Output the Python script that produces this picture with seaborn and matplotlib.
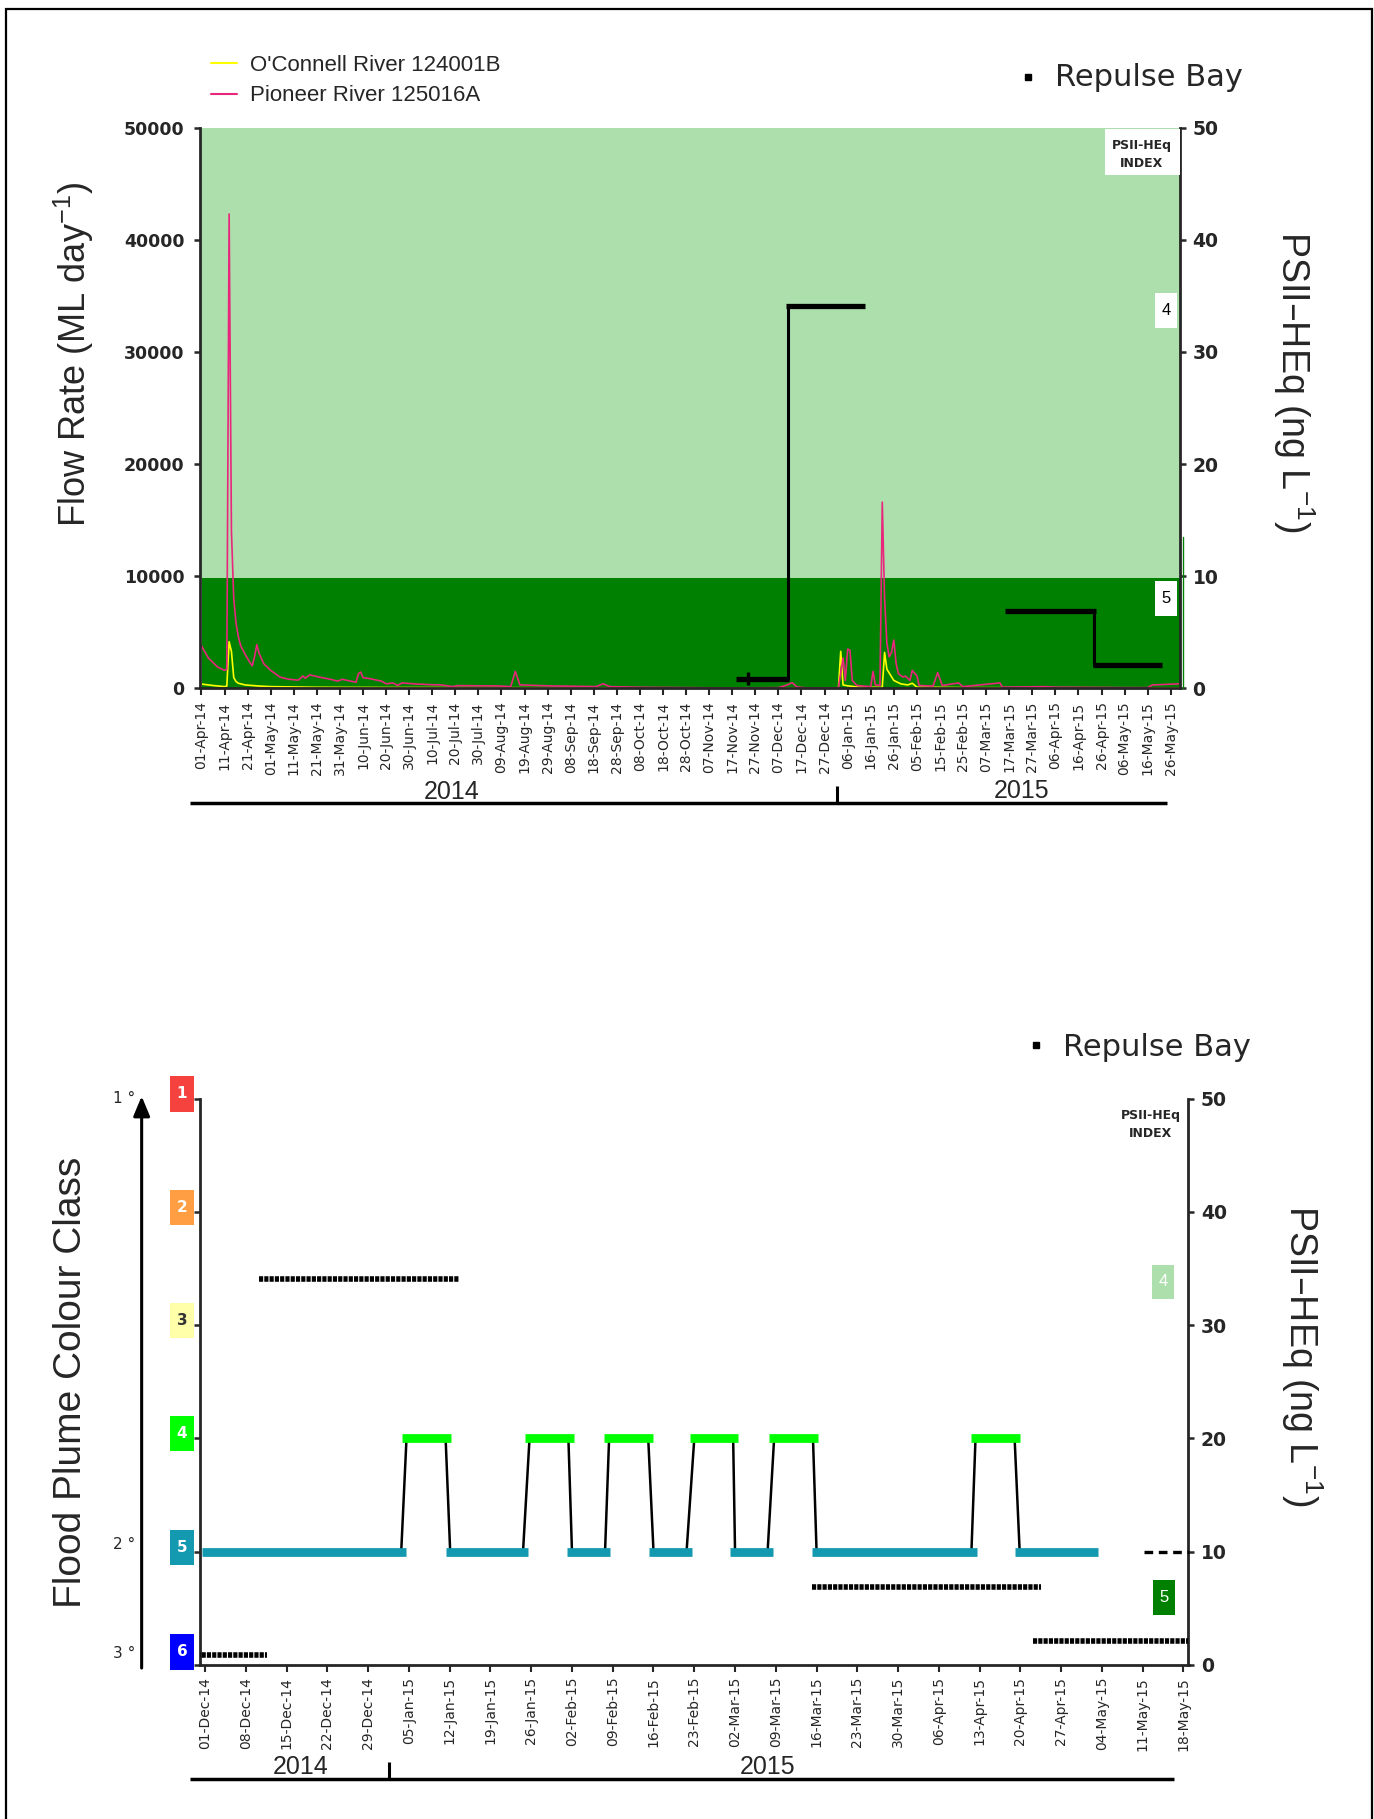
import pandas as pd
import matplotlib
matplotlib.use("Agg")
import matplotlib.pyplot as plt
import matplotlib.dates as mdates
from matplotlib.patches import Rectangle
from matplotlib.lines import Line2D
from matplotlib.transforms import blended_transform_factory
import seaborn as sns

# ---------------------------------------------------------------- data
rivers = ["O'Connell River 124001B", "Pioneer River 125016A"]
river_colors = ["#FFFF00", "#E8267C"]

# daily river flow (ML/day) at the turning points of each hydrograph
oconnell_dates = ["2014-04-01", "2014-04-06", "2014-04-11", "2014-04-12", "2014-04-13",
                  "2014-04-14", "2014-04-15", "2014-04-16", "2014-04-17", "2014-04-20",
                  "2014-04-26", "2014-05-01", "2014-05-21", "2014-06-20", "2014-07-22",
                  "2014-08-29", "2014-10-18", "2014-11-27", "2015-01-02", "2015-01-03",
                  "2015-01-04", "2015-01-06", "2015-01-11", "2015-01-21", "2015-01-22",
                  "2015-01-23", "2015-01-26", "2015-01-29", "2015-02-01", "2015-02-03",
                  "2015-02-05", "2015-02-25", "2015-03-27", "2015-05-30"]
oconnell_flow = [380, 250, 150, 200, 4150,
                 3300, 950, 600, 450, 300,
                 200, 150, 90, 70, 60,
                 50, 40, 30, 30, 3300,
                 300, 220, 100, 80, 3200,
                 1700, 700, 400, 300, 450,
                 100, 60, 50, 40]

pioneer_dates = ["2014-04-01", "2014-04-04", "2014-04-08", "2014-04-11", "2014-04-12",
                 "2014-04-13", "2014-04-14", "2014-04-15", "2014-04-16", "2014-04-17",
                 "2014-04-18", "2014-04-20", "2014-04-22", "2014-04-23", "2014-04-24",
                 "2014-04-25", "2014-04-26", "2014-04-28", "2014-05-01", "2014-05-03",
                 "2014-05-05", "2014-05-09", "2014-05-13", "2014-05-15", "2014-05-16",
                 "2014-05-18", "2014-05-22", "2014-05-27", "2014-05-30", "2014-06-01",
                 "2014-06-07", "2014-06-08", "2014-06-09", "2014-06-10", "2014-06-13",
                 "2014-06-18", "2014-06-20", "2014-06-23", "2014-06-25", "2014-06-27",
                 "2014-07-03", "2014-07-10", "2014-07-14", "2014-07-19", "2014-07-21",
                 "2014-08-08", "2014-08-13", "2014-08-15", "2014-08-17", "2014-08-31",
                 "2014-09-19", "2014-09-22", "2014-09-25", "2014-10-09", "2014-11-16",
                 "2014-12-07", "2014-12-10", "2014-12-13", "2014-12-15", "2014-12-19",
                 "2015-01-01", "2015-01-02", "2015-01-04", "2015-01-05", "2015-01-06",
                 "2015-01-07", "2015-01-08", "2015-01-10", "2015-01-16", "2015-01-17",
                 "2015-01-18", "2015-01-20", "2015-01-21", "2015-01-22", "2015-01-23",
                 "2015-01-24", "2015-01-25", "2015-01-26", "2015-01-27", "2015-01-28",
                 "2015-01-30", "2015-01-31", "2015-02-02", "2015-02-03", "2015-02-05",
                 "2015-02-06", "2015-02-12", "2015-02-14", "2015-02-16", "2015-02-23",
                 "2015-02-25", "2015-03-13", "2015-03-14", "2015-04-01", "2015-04-06",
                 "2015-05-06", "2015-05-16", "2015-05-18", "2015-05-30"]
pioneer_flow = [3800, 2700, 1900, 1600, 1700,
                42300, 14000, 8000, 5800, 4600,
                3800, 3000, 2300, 2000, 2800,
                3900, 3100, 2200, 1600, 1300,
                1000, 800, 730, 1100, 900,
                1200, 1000, 800, 640, 800,
                540, 1300, 1450, 950, 860,
                640, 400, 480, 260, 480,
                380, 320, 300, 150, 240,
                210, 150, 1500, 300, 210,
                150, 400, 150, 90, 30,
                60, 240, 500, 120, 40,
                40, 60, 2700, 700, 3500,
                3400, 700, 250, 150, 1500,
                300, 250, 16600, 8000, 4000,
                2800, 3200, 4300, 2200, 1300,
                1000, 1100, 700, 1600, 1100,
                250, 200, 1400, 250, 480,
                150, 480, 100, 150, 100,
                60, 60, 300, 400]

# passive sampler deployments at Repulse Bay: PSII-HEq (ng/L)
sample_start = ["2014-11-18 17:00", "2014-12-10 05:00", "2015-03-15 05:00", "2015-04-22 04:00"]
sample_end = ["2014-12-11 17:00", "2015-01-13 16:00", "2015-04-23 12:00", "2015-05-22 02:00"]
psii_heq = [0.85, 34.1, 6.9, 2.1]
psii_err_date = "2014-11-23 19:00"
psii_err = 0.6

# PSII-HEq index bands (ng/L)
index_names = ["5", "4"]
index_lower = [0, 9.8]
index_upper = [9.8, 50]
index_colors = ["#008000", "#ADDFAD"]

# flood plume colour class observed at the site
plume_start = ["2014-11-30 10:00", "2015-01-03 19:00", "2015-01-11 07:00", "2015-01-24 22:00",
               "2015-02-01 05:00", "2015-02-07 14:00", "2015-02-15 05:00", "2015-02-22 05:00",
               "2015-03-01 05:00", "2015-03-07 22:00", "2015-03-15 05:00", "2015-04-11 12:00",
               "2015-04-19 02:00"]
plume_end = ["2015-01-04 14:00", "2015-01-12 05:00", "2015-01-25 12:00", "2015-02-02 07:00",
             "2015-02-08 14:00", "2015-02-16 00:00", "2015-02-22 14:00", "2015-03-02 14:00",
             "2015-03-08 12:00", "2015-03-16 07:00", "2015-04-12 12:00", "2015-04-19 22:00",
             "2015-05-03 10:00"]
plume_class = [5, 4, 5, 4, 5, 4, 5, 4, 5, 4, 5, 4, 5]

colour_classes = [1, 2, 3, 4, 5, 6]
class_colors = ["#F5423F", "#FF9E42", "#FFFFAA", "#00FF00", "#1399B0", "#0000FF"]
class_text_colors = ["white", "white", "#333333", "white", "white", "white"]
plume_degree_labels = ["1 °", "2 °", "3 °"]
plume_degree_class = [1, 5, 6]

psii_guideline = 10
psii_guideline_dates = ["2015-05-11 05:00", "2015-05-18 21:00"]

# ---------------------------------------------------------------- style
sns.set_style("ticks")
plt.rcParams["font.family"] = ["Liberation Sans", "DejaVu Sans"]
plt.rcParams["mathtext.default"] = "regular"
plt.rcParams["axes.linewidth"] = 2.0

W, H = 1374, 1819
fig = plt.figure(figsize=(W / 100, H / 100), dpi=100)


def fx(px):
    return px / W


def fy(py):
    return 1 - py / H


def class_level(c):
    # colour class 1..6 sits on the PSII-HEq grid at 50, 40, ... 0
    return 60 - 10 * c


T = pd.Timestamp
DAY = pd.Timedelta(days=1)

# ================================================================ top panel
ax = fig.add_axes([fx(199.6), fy(688.3), fx(1180) - fx(199.6), fy(127.7) - fy(688.3)])
flow_per_psii = 1000.0

for lo, hi, col in zip(index_lower, index_upper, index_colors):
    ax.axhspan(lo * flow_per_psii, hi * flow_per_psii,
               xmin=0.002 if lo == 0 else 0, color=col, lw=0, zorder=0)

flow = pd.concat([
    pd.DataFrame({"date": pd.to_datetime(oconnell_dates), "flow": oconnell_flow, "river": rivers[0]}),
    pd.DataFrame({"date": pd.to_datetime(pioneer_dates), "flow": pioneer_flow, "river": rivers[1]}),
], ignore_index=True)
sns.lineplot(data=flow, x="date", y="flow", hue="river", hue_order=rivers,
             palette=dict(zip(rivers, river_colors)), linewidth=1.2,
             estimator=None, ax=ax, zorder=2)
ax.set_xlabel("")
ax.set_ylabel("")
sns.move_legend(ax, "upper left", bbox_to_anchor=(fx(211), fy(55)),
                bbox_transform=fig.transFigure, frameon=False, title=None,
                fontsize=16, handlelength=1.15, handletextpad=0.6,
                labelspacing=0.42, borderpad=0, borderaxespad=0)
for ln in ax.get_legend().get_lines():
    ln.set_linewidth(1.5)

ax.set_ylim(0, 50000)
ax.set_yticks(range(0, 50001, 10000))
ax.set_xticks(pd.date_range("2014-04-01", "2015-05-26", freq="10D"))
ax.xaxis.set_major_formatter(mdates.DateFormatter("%d-%b-%y"))
ax.tick_params(axis="x", length=5, width=1.5, pad=4.5, labelsize=10, labelrotation=90)
ax.tick_params(axis="y", length=4, width=1.8, pad=7)
plt.setp(ax.get_xticklabels(), fontfamily="DejaVu Sans")
plt.setp(ax.get_yticklabels(), fontfamily="DejaVu Sans", fontweight="bold", fontsize=12.5)
ax.spines["top"].set_visible(False)
ax.spines["right"].set_visible(False)

axr = ax.twinx()
axr.set_ylim(0, 50)
axr.set_yticks(range(0, 51, 10))
axr.tick_params(axis="y", length=4, width=1.8, pad=5)
plt.setp(axr.get_yticklabels(), fontfamily="DejaVu Sans", fontweight="bold", fontsize=13.5)
for side in ("top", "left", "bottom"):
    axr.spines[side].set_visible(False)

# PSII-HEq sampler results as steps
starts = [T(s) for s in sample_start]
ends = [T(e) for e in sample_end]
for s, e, v in zip(starts, ends, psii_heq):
    axr.plot([s, e], [v, v], color="black", lw=3.8, solid_capstyle="butt", zorder=4)
for i in range(len(starts) - 1):
    if starts[i + 1] <= ends[i]:
        xm = starts[i + 1] + (ends[i] - starts[i + 1]) / 2
        axr.plot([xm, xm], [psii_heq[i], psii_heq[i + 1]], color="black", lw=2.2, zorder=4)
axr.errorbar([T(psii_err_date)], [psii_heq[0]], yerr=[psii_err], fmt="none",
             ecolor="black", elinewidth=2.4, capsize=0, zorder=5)
axr.plot([T("2015-05-31 12:00")] * 2, [0, 13.5], color="#008000", lw=1.0, clip_on=False)

ax.set_xlim(T("2014-03-31 05:00"), T("2015-05-30 00:00"))

# index key boxes
axr.add_patch(Rectangle((0.9235, 0.9156), 0.0765, 0.0814, transform=axr.transAxes,
                        facecolor="white", edgecolor="none", zorder=6))
axr.text(0.961, 0.9679, "PSII-HEq", transform=axr.transAxes, ha="center", va="center",
         fontsize=9, fontweight="bold", fontfamily="DejaVu Sans", zorder=7)
axr.text(0.961, 0.9365, "INDEX", transform=axr.transAxes, ha="center", va="center",
         fontsize=9, fontweight="bold", fontfamily="DejaVu Sans", zorder=7)
for name, yc in zip(index_names, [0.1605, 0.6739]):
    axr.add_patch(Rectangle((0.9857 - 0.011, yc - 0.0307), 0.022, 0.0614,
                            transform=axr.transAxes, facecolor="white", edgecolor="none", zorder=6))
    axr.text(0.9857, yc, name, transform=axr.transAxes, ha="center", va="center",
             fontsize=12, color="black", zorder=7)

# axis titles and site name
fig.text(fx(74), fy(354), "Flow Rate (ML day$^{-1}$)", rotation=90,
         ha="center", va="center", fontsize=26)
fig.text(fx(1294), fy(382), "PSII–HEq (ng L$^{-1}$)", rotation=-90,
         ha="center", va="center", fontsize=27)
fig.add_artist(Line2D([fx(1027.7)], [fy(76.7)], marker="s", ms=4.3, color="black",
                      transform=fig.transFigure))
fig.text(fx(1055), fy(77), "Repulse Bay", ha="left", va="center", fontsize=22,
         fontfamily="DejaVu Sans")

# year bar under the date axis
tb = blended_transform_factory(ax.transData, fig.transFigure)
ax.plot([T("2014-03-26 21:00"), T("2015-05-24 10:00")], [fy(803.3)] * 2,
        transform=tb, clip_on=False, color="black", lw=2.5, solid_capstyle="butt")
ax.plot([T("2015-01-01 14:00")] * 2, [fy(786.5), fy(802)], transform=tb,
        clip_on=False, color="black", lw=2.2, solid_capstyle="butt")
ax.set_xlim(T("2014-03-31 05:00"), T("2015-05-30 00:00"))
fig.text(fx(452), fy(791.7), "2014", ha="center", va="center", fontsize=18)
fig.text(fx(1022), fy(790.7), "2015", ha="center", va="center", fontsize=18)

# ================================================================ bottom panel
ax2 = fig.add_axes([fx(199.6), fy(1665), fx(1188.5) - fx(199.6), fy(1098.5) - fy(1665)])
ax2.set_ylim(0, 50)
ax2.set_yticks(range(0, 51, 10))
ax2.tick_params(axis="y", left=True, right=True, labelleft=False, labelright=True,
                length=4, width=1.8, pad=5)
plt.setp(ax2.get_yticklabels(), fontfamily="DejaVu Sans", fontweight="bold", fontsize=13.5)
ax2.spines["top"].set_visible(False)
for side in ("left", "right", "bottom"):
    ax2.spines[side].set_linewidth(2.0)

# plume colour class record
p_start = [T(s) for s in plume_start]
p_end = [T(e) for e in plume_end]
p_level = [class_level(c) for c in plume_class]
for i in range(len(p_start) - 1):
    ax2.plot([p_end[i] - 0.9 * DAY, p_start[i + 1] + 0.8 * DAY], [p_level[i], p_level[i + 1]],
             color="black", lw=1.8, zorder=2)
for s, e, c, lvl in zip(p_start, p_end, plume_class, p_level):
    ax2.plot([s, e], [lvl, lvl], color=class_colors[c - 1], lw=6.3,
             solid_capstyle="butt", zorder=3)

# sampler results as dotted bars
for s, e, v in zip(starts, ends, psii_heq):
    ax2.plot([s, e], [v, v], color="black", lw=4.0, linestyle=(0, (0.75, 0.2)),
             dash_capstyle="butt", zorder=4)
ax2.plot([T(d) for d in psii_guideline_dates], [psii_guideline] * 2, color="black", lw=2.4,
         linestyle=(0, (2.6, 1.7)), clip_on=False, zorder=4)

ax2.set_xlim(T("2014-11-30 01:30"), T("2015-05-18 21:00"))
ax2.set_xticks(pd.date_range("2014-12-01", "2015-05-18", freq="7D"))
ax2.xaxis.set_major_formatter(mdates.DateFormatter("%d-%b-%y"))
ax2.tick_params(axis="x", length=5, width=1.5, pad=3.5, labelsize=10, labelrotation=90)
plt.setp(ax2.get_xticklabels(), fontfamily="DejaVu Sans")

# colour class key on the left axis
bl = blended_transform_factory(ax2.transAxes, ax2.transData)
box_w, box_h = 0.0233, 3.1
for c, col, tcol in zip(colour_classes, class_colors, class_text_colors):
    lvl = class_level(c)
    yc = lvl + 0.4 if lvl > 0 else 1.15
    ax2.add_patch(Rectangle((-0.0178 - box_w / 2, yc - box_h / 2), box_w, box_h, transform=bl,
                            facecolor=col, edgecolor="none", clip_on=False, zorder=5))
    ax2.text(-0.0178, yc, str(c), transform=bl, ha="center", va="center", fontsize=11,
             fontweight="bold", fontfamily="DejaVu Sans", color=tcol, clip_on=False, zorder=6)
for lab, c, dy in zip(plume_degree_labels, plume_degree_class, [0.0, 0.6, 1.0]):
    ax2.text(-0.0764, class_level(c) + dy, lab, transform=bl, ha="center", va="center",
             fontsize=11, fontfamily="DejaVu Sans", clip_on=False)
ax2.annotate("", xy=(-0.0586, 50.2), xytext=(-0.0586, -0.27), xycoords=bl, textcoords=bl,
             arrowprops=dict(arrowstyle="-|>,head_length=1.2,head_width=0.5", mutation_scale=10,
                             lw=2.2, color="black", shrinkA=0, shrinkB=0),
             annotation_clip=False)

# index key on the right
ax2.text(0.9616, 0.9705, "PSII-HEq", transform=ax2.transAxes, ha="center", va="center",
         fontsize=9, fontweight="bold", fontfamily="DejaVu Sans")
ax2.text(0.9616, 0.9382, "INDEX", transform=ax2.transAxes, ha="center", va="center",
         fontsize=9, fontweight="bold", fontfamily="DejaVu Sans")
for name, col, xc, yc in zip(index_names, index_colors, [0.9752, 0.9742], [0.1192, 0.6761]):
    ax2.add_patch(Rectangle((xc - 0.0111, yc - 0.0305), 0.0222, 0.0609, transform=ax2.transAxes,
                            facecolor=col, edgecolor="none", zorder=5))
    ax2.text(xc, yc, name, transform=ax2.transAxes, ha="center", va="center",
             fontsize=12, color="white", zorder=6)

fig.text(fx(71), fy(1382.7), "Flood Plume Colour Class", rotation=90,
         ha="center", va="center", fontsize=28)
fig.text(fx(1301.5), fy(1356), "PSII–HEq (ng L$^{-1}$)", rotation=-90,
         ha="center", va="center", fontsize=27)
fig.add_artist(Line2D([fx(1035.7)], [fy(1044.6)], marker="s", ms=4.3, color="black",
                      transform=fig.transFigure))
fig.text(fx(1063.3), fy(1047), "Repulse Bay", ha="left", va="center", fontsize=22,
         fontfamily="DejaVu Sans")

tb2 = blended_transform_factory(ax2.transData, fig.transFigure)
ax2.plot([T("2014-11-28 10:00"), T("2015-05-16 10:00")], [fy(1779)] * 2, transform=tb2,
         clip_on=False, color="black", lw=2.5, solid_capstyle="butt")
ax2.plot([T("2015-01-01 14:00")] * 2, [fy(1761.7), fy(1777.5)], transform=tb2,
         clip_on=False, color="black", lw=2.2, solid_capstyle="butt")
ax2.set_xlim(T("2014-11-30 01:30"), T("2015-05-18 21:00"))
fig.text(fx(300.8), fy(1766.7), "2014", ha="center", va="center", fontsize=18)
fig.text(fx(768), fy(1766.7), "2015", ha="center", va="center", fontsize=18)

# frame around the whole figure
fig.add_artist(Rectangle((fx(6), -0.01), fx(1372) - fx(6), fy(9.3) + 0.01,
                         transform=fig.transFigure, fill=False, edgecolor="black", lw=1.6))

fig.savefig("out.png", dpi=100)
